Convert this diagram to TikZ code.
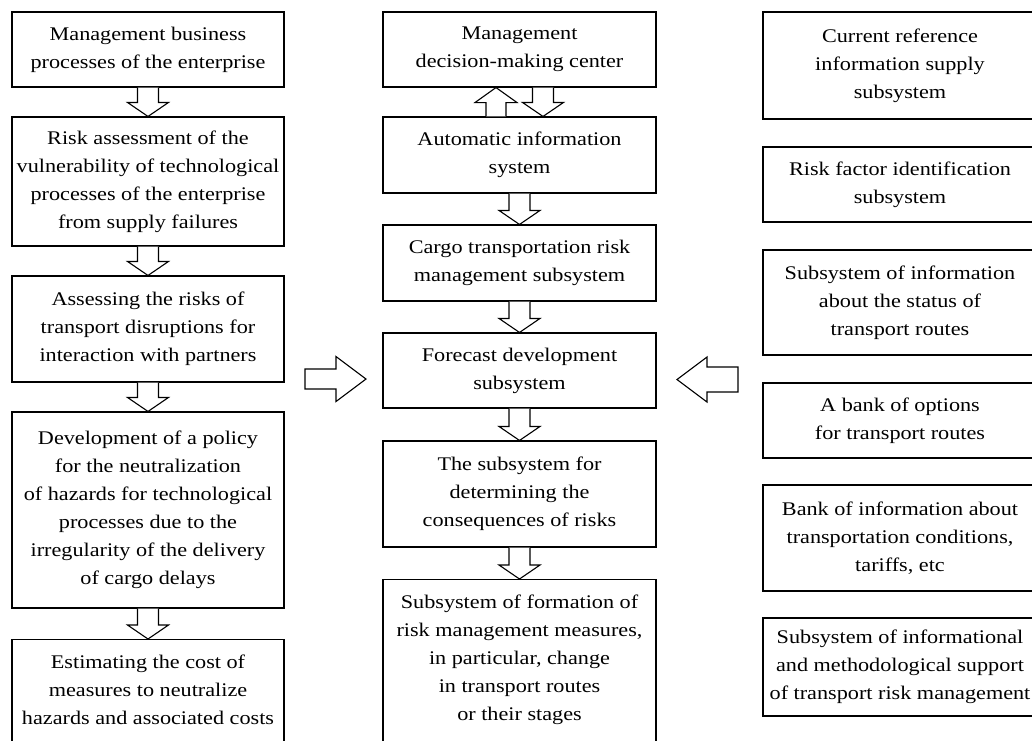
\documentclass[tikz,border=0pt]{standalone}
\usepackage{fontspec}
\setmainfont{Liberation Serif}[FakeStretch=1.15]
\usetikzlibrary{calc}
\tikzset{
  box/.style={draw, line width=1.1pt, align=center, inner xsep=2pt, inner ysep=4pt,
    font=\fontsize{19.3}{28}\selectfont},
  lbox/.style={box, minimum width=272pt},
  mbox/.style={box, minimum width=273pt},
  rbox/.style={box, minimum width=274pt},
  openbox/.style={anchor=north, inner ysep=15.8pt, text depth=150pt},
  blk/.style={draw, line width=1.1pt, line join=miter, fill=white}
}
% down block arrow from #1 (tail, above) to #2 (tip, below)
\newcommand\darrowblk[2]{\draw[blk] let \p1=(#1), \p2=(#2) in
  (\x1-10.5pt,\y1) -- (\x1-10.5pt,\y2+14pt) -- (\x1-20.5pt,\y2+14pt) -- (\x1,\y2)
  -- (\x1+20.5pt,\y2+14pt) -- (\x1+10.5pt,\y2+14pt) -- (\x1+10.5pt,\y1);}
% up block arrow from #1 (tail, below) to #2 (tip, above)
\newcommand\uarrowblk[2]{\draw[blk] let \p1=(#1), \p2=(#2) in
  (\x1-10pt,\y1) -- (\x1-10pt,\y2-15pt) -- (\x1-21pt,\y2-15pt) -- (\x1,\y2)
  -- (\x1+21pt,\y2-15pt) -- (\x1+10pt,\y2-15pt) -- (\x1+10pt,\y1);}
% horizontal block arrow, tail #1, tip #2 (works both directions)
\newcommand\harrowblk[4]{\draw[blk] let \p1=(#1), \p2=(#2) in
  (\x1,\y1-#3) -- (\x2+#4,\y1-#3) -- (\x2+#4,\y1-22.5pt) -- (\x2,\y1)
  -- (\x2+#4,\y1+22.5pt) -- (\x2+#4,\y1+#3) -- (\x1,\y1+#3) -- cycle;}
\begin{document}
\begin{tikzpicture}[x=1pt,y=-1pt]
\useasboundingbox (0,0) rectangle (1032,740);
\clip (0,0) rectangle (1032,740);
\fill[white] (0,0) rectangle (1032,740);

% left column
\node[lbox, minimum height=75pt]  (L1) at (148,49.5) {Management business\\processes of the enterprise};
\node[lbox, minimum height=129pt] (L2) at (148,181.5) {Risk assessment of the\\vulnerability of technological\\processes of the enterprise\\from supply failures};
\node[lbox, minimum height=106pt] (L3) at (148,329) {Assessing the risks of\\transport disruptions for\\interaction with partners};
\node[lbox, minimum height=196pt] (L4) at (148,510) {Development of a policy\\for the neutralization\\of hazards for technological\\processes due to the\\irregularity of the delivery\\of cargo delays};
\node[lbox, openbox] (L5) at (148,639) {Estimating the cost of\\measures to neutralize\\hazards and associated costs};

% middle column
\node[mbox, minimum height=75pt]  (M1) at (519.5,49.5) {Management\\decision-making center};
\node[mbox, minimum height=76pt]  (M2) at (519.5,155) {Automatic information\\system};
\node[mbox, minimum height=76pt]  (M3) at (519.5,263) {Cargo transportation risk\\management subsystem};
\node[mbox, minimum height=75pt]  (M4) at (519.5,370.5) {Forecast development\\subsystem};
\node[mbox, minimum height=106pt] (M5) at (519.5,494) {The subsystem for\\determining the\\consequences of risks};
\node[mbox, openbox] (M6) at (519.5,579) {Subsystem of formation of\\risk management measures,\\in particular, change\\in transport routes\\or their stages};

% right column
\node[rbox, minimum height=107pt] (R1) at (900,65.5) {Current reference\\information supply\\subsystem};
\node[rbox, minimum height=75pt]  (R2) at (900,184.5) {Risk factor identification\\subsystem};
\node[rbox, minimum height=105pt] (R3) at (900,302.5) {Subsystem of information\\about the status of\\transport routes};
\node[rbox, minimum height=75pt]  (R4) at (900,420.5) {A bank of options\\for transport routes};
\node[rbox, minimum height=106pt] (R5) at (900,538) {Bank of information about\\transportation conditions,\\tariffs, etc};
\node[rbox, minimum height=98pt]  (R6) at (900,667) {Subsystem of informational\\and methodological support\\of transport risk management};

% vertical block arrows
\darrowblk{L1.south}{L2.north}
\darrowblk{L2.south}{L3.north}
\darrowblk{L3.south}{L4.north}
\darrowblk{L4.south}{L5.north}
\uarrowblk{[xshift=-23.5pt]M2.north}{[xshift=-23.5pt]M1.south}
\darrowblk{[xshift=23.5pt]M1.south}{[xshift=23.5pt]M2.north}
\darrowblk{M2.south}{M3.north}
\darrowblk{M3.south}{M4.north}
\darrowblk{M4.south}{M5.north}
\darrowblk{M5.south}{M6.north}

% horizontal block arrows
\coordinate (inL) at (305,379);
\coordinate (inLtip) at (366,379);
\coordinate (inR) at (738,379.5);
\coordinate (inRtip) at (677,379.5);
\harrowblk{inL}{inLtip}{10pt}{-30pt}
\harrowblk{inR}{inRtip}{12.5pt}{30pt}
\end{tikzpicture}
\end{document}
